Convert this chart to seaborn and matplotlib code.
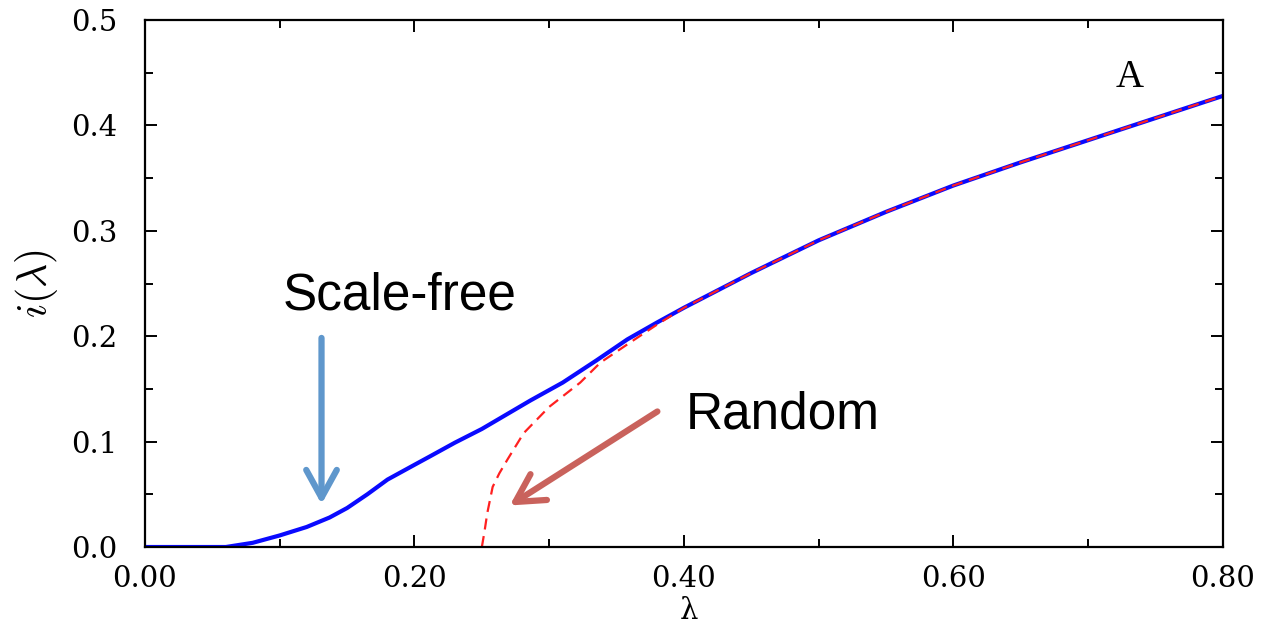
import numpy as np
import pandas as pd
import matplotlib
matplotlib.use("Agg")
import matplotlib.pyplot as plt
import seaborn as sns
from matplotlib.ticker import MultipleLocator, FormatStrFormatter

# ---- data ----
lam_sf = [0.0, 0.06, 0.08, 0.10, 0.12, 0.137, 0.15, 0.165, 0.18, 0.20, 0.2115, 0.23,
          0.25, 0.27, 0.286, 0.31, 0.335, 0.358, 0.38, 0.40, 0.45, 0.50, 0.55, 0.60,
          0.65, 0.70, 0.75, 0.80]
i_sf = [0.0, 0.0, 0.004, 0.011, 0.019, 0.028, 0.037, 0.050, 0.064, 0.078, 0.086, 0.099,
        0.112, 0.127, 0.139, 0.156, 0.177, 0.197, 0.213, 0.227, 0.260, 0.291, 0.318,
        0.343, 0.365, 0.386, 0.407, 0.428]

lam_rnd = [0.25, 0.252, 0.254, 0.258, 0.263, 0.269, 0.281, 0.30, 0.323, 0.338,
           0.36, 0.38, 0.40, 0.45, 0.50, 0.55, 0.60, 0.65, 0.70, 0.75, 0.80]
i_rnd = [0.0, 0.015, 0.032, 0.057, 0.070, 0.083, 0.108, 0.133, 0.156, 0.175,
         0.194, 0.211, 0.227, 0.260, 0.291, 0.318, 0.343, 0.365, 0.386, 0.407, 0.428]

x_ticks = [0.00, 0.20, 0.40, 0.60, 0.80]
y_ticks = [0.0, 0.1, 0.2, 0.3, 0.4, 0.5]

df_sf = pd.DataFrame({"lam": lam_sf, "i": i_sf})
df_rnd = pd.DataFrame({"lam": lam_rnd, "i": i_rnd})

sns.set_style("ticks")
plt.rcParams["font.family"] = ["DejaVu Serif"]
plt.rcParams["mathtext.fontset"] = "cm"
plt.rcParams["text.color"] = "black"
plt.rcParams["axes.labelcolor"] = "black"
plt.rcParams["axes.edgecolor"] = "black"

fig = plt.figure(figsize=(12.63, 6.31), dpi=100)
ax = fig.add_axes([0.1148, 0.1331, 0.8535, 0.8352])

sns.lineplot(data=df_sf, x="lam", y="i", ax=ax, color="#0a0aff", lw=3.0, sort=False)
sns.lineplot(data=df_rnd, x="lam", y="i", ax=ax, color="#ff2020", lw=1.6,
             linestyle=(0, (5, 3)), sort=False)

ax.set_xlim(0, 0.8)
ax.set_ylim(0, 0.5)
ax.set_xticks(x_ticks)
ax.set_yticks(y_ticks)
ax.xaxis.set_major_formatter(FormatStrFormatter("%.2f"))
ax.yaxis.set_major_formatter(FormatStrFormatter("%.1f"))
ax.xaxis.set_minor_locator(MultipleLocator(0.1))
ax.yaxis.set_minor_locator(MultipleLocator(0.05))
ax.tick_params(which="both", direction="in", top=True, right=True, width=1.4,
               labelsize=21, colors="black")
ax.tick_params(which="major", length=8.5)
ax.tick_params(which="minor", length=5.5)
ax.tick_params(axis="y", pad=20)
ax.tick_params(axis="x", pad=13)
for s in ax.spines.values():
    s.set_linewidth(1.6)
    s.set_visible(True)

ax.set_xlabel("λ", fontsize=21, labelpad=0)
ax.set_ylabel(r"$i(\lambda)$", fontsize=30, labelpad=8)
ax.xaxis.set_label_coords(0.505, -0.095)

sans = ["Liberation Sans", "DejaVu Sans"]
ax.text(0.189, 0.238, "Scale-free", fontsize=37, family=sans, ha="center", va="center")
ax.text(0.473, 0.125, "Random", fontsize=37, family=sans, ha="center", va="center")
ax.text(0.731, 0.445, "A", fontsize=28, family=["Liberation Serif", "DejaVu Serif"],
        ha="center", va="center")

ax.annotate("", xy=(0.131, 0.038), xytext=(0.131, 0.201),
            arrowprops=dict(arrowstyle="->, head_length=1.0, head_width=0.55",
                            mutation_scale=20, color="#5f97cc", lw=4.5))
ax.annotate("", xy=(0.269, 0.038), xytext=(0.382, 0.130),
            arrowprops=dict(arrowstyle="->, head_length=1.0, head_width=0.55",
                            mutation_scale=20, color="#c9625c", lw=4.5))

fig.savefig("out.png", dpi=100)
